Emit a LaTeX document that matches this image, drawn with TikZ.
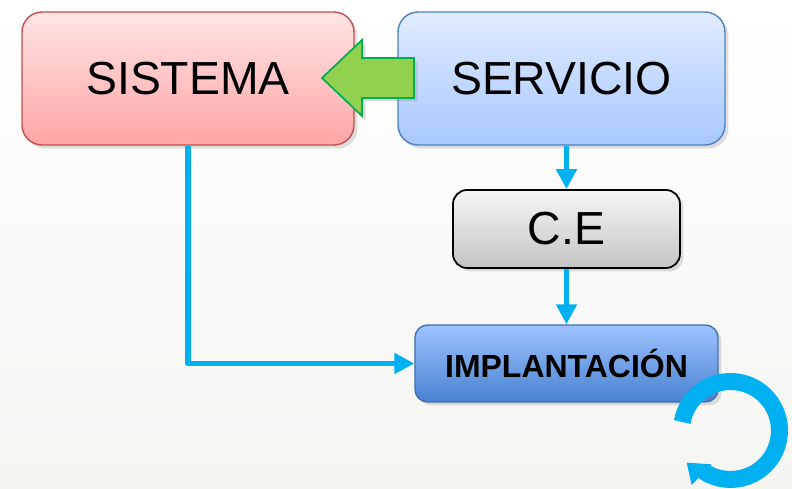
\documentclass[tikz,border=0pt]{standalone}
\usepackage{fontspec}
\setmainfont{Liberation Sans}
\usetikzlibrary{shadows,arrows.meta,positioning}
\definecolor{bgbottom}{RGB}{245,246,242}
\definecolor{sistop}{RGB}{255,228,228}
\definecolor{sisbot}{RGB}{255,165,165}
\definecolor{sisline}{RGB}{192,80,77}
\definecolor{servtop}{RGB}{224,235,255}
\definecolor{servbot}{RGB}{168,200,255}
\definecolor{servline}{RGB}{79,129,189}
\definecolor{cetop}{RGB}{246,246,246}
\definecolor{cebot}{RGB}{196,196,196}
\definecolor{impltop}{RGB}{158,195,255}
\definecolor{implbot}{RGB}{72,130,208}
\definecolor{implline}{RGB}{62,112,178}
\definecolor{linkcyan}{RGB}{0,176,240}
\definecolor{arrowgreen}{RGB}{146,208,80}
\definecolor{arrowline}{RGB}{0,176,80}

\begin{document}
\begin{tikzpicture}[x=0.02cm, y=-0.02cm,
    box/.style={rounded corners=0.4cm, line width=0.8pt, inner sep=0pt,
        drop shadow={opacity=0.25, shadow xshift=0.07cm, shadow yshift=-0.07cm}},
    bigtext/.style={font=\fontsize{26.4}{30}\selectfont},
    link/.style={draw=linkcyan, line width=3.4pt, line join=round,
        -{Triangle[length=0.4cm, width=0.4cm]}}]
    % Background
    \useasboundingbox (0,0) rectangle (792,489);
    \fill[top color=white, bottom color=bgbottom] (0,0) rectangle (792,489);

    % Boxes
    \node[box, bigtext, draw=sisline, top color=sistop, bottom color=sisbot,
        minimum width=6.64cm, minimum height=2.66cm] (sistema) at (188,78.5) {SISTEMA};
    \node[box, bigtext, draw=servline, top color=servtop, bottom color=servbot,
        minimum width=6.54cm, minimum height=2.66cm] (servicio) at (561.5,78.5) {SERVICIO};
    \node[box, bigtext, rounded corners=0.28cm, draw=black, line width=1pt,
        top color=cetop, bottom color=cebot,
        minimum width=4.54cm, minimum height=1.56cm] (ce) at (566.5,229) {C.E};
    \node[box, rounded corners=0.25cm, draw=implline, top color=impltop, bottom color=implbot,
        minimum width=6.06cm, minimum height=1.54cm,
        font=\fontsize{18.2}{20}\selectfont\bfseries] (impl) at (566.5,363.5) {IMPLANTACIÓN};

    % Connectors
    \draw[link] (servicio.south -| ce.north) -- (ce.north);
    \draw[link] (ce.south) -- (impl.north);
    \draw[link] (sistema.south) |- (impl.west);

    % Green arrow
    \draw[fill=arrowgreen, draw=arrowline, line width=1pt,
        drop shadow={opacity=0.25, shadow xshift=0.07cm, shadow yshift=-0.07cm}]
        (322,78) -- (362,40) -- (362,58) -- (414,58) -- (414,98)
        -- (362,98) -- (362,116) -- cycle;

    % Loop arrow
    \begin{scope}[shift={(730.5,430.5)}, x=1cm, y=1cm]
        \draw[linkcyan, line width=0.34cm] (170:0.98) arc[start angle=170, end angle=-124, radius=0.98];
        \fill[linkcyan] (-0.877,-0.643) -- (-0.377,-0.677) -- (-0.777,-1.09) -- cycle;
    \end{scope}
\end{tikzpicture}
\end{document}
